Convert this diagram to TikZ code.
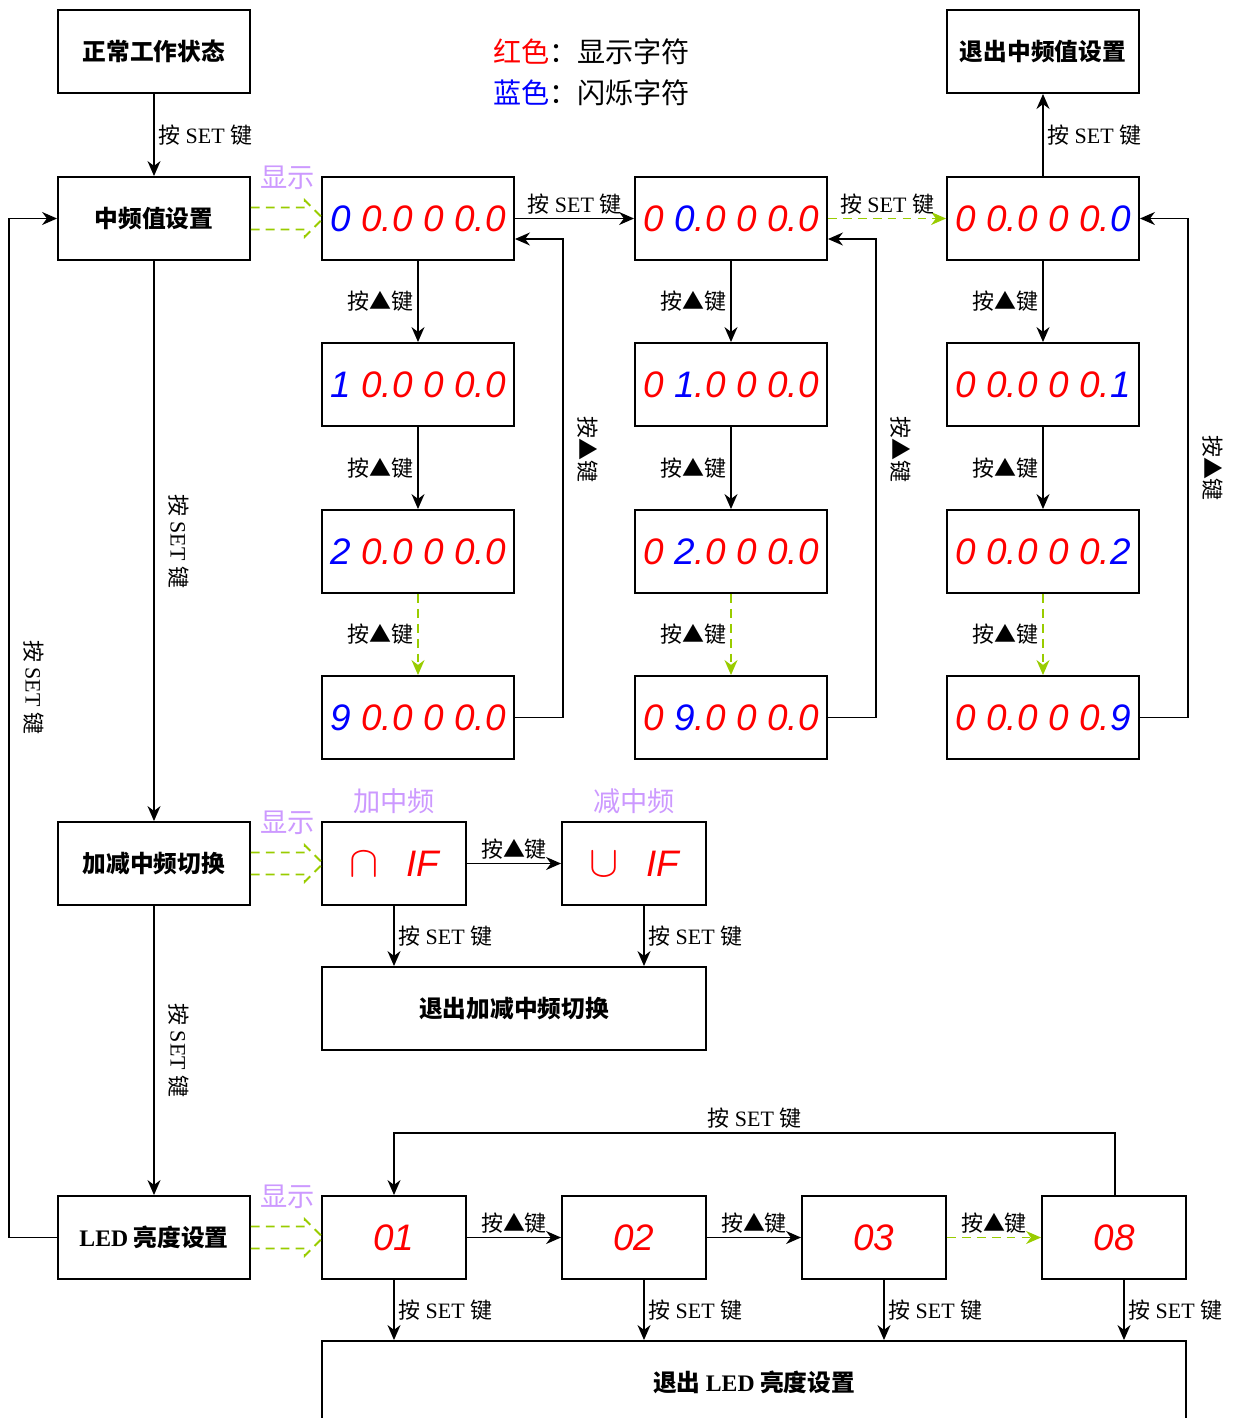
\documentclass[tikz,border=0pt]{standalone}
\usepackage{fontspec}
\setmainfont{Liberation Serif}
\setsansfont{Liberation Sans}
\newfontfamily\cjk{Noto Sans CJK SC}
\newfontfamily\segfont{Liberation Sans}
\usetikzlibrary{arrows.meta}
\definecolor{lilac}{RGB}{204,153,255}
\definecolor{leaf}{RGB}{153,204,0}

\newcommand\setkey{{\cjk 按} SET {\cjk 键}}
\newcommand\upkey{{\cjk 按▲键}}
\newcommand\dg[2]{\makebox[0.62cm][c]{\color{#1}#2}}
\newcommand\dt{\makebox[0pt][c]{\color{red}.}}
\newcommand\disp[2]{\foreach \i in {1,...,6}{\ifnum\i=#1 \dg{blue}{#2}\else\dg{red}{0}\fi\ifnum\i=2 \dt\fi\ifnum\i=5 \dt\fi}}

\begin{document}
\begin{tikzpicture}[x=0.02cm, y=-0.02cm,
    box/.style={draw, line width=1.1pt, minimum width=3.84cm, minimum height=1.66cm, font=\cjk\bfseries\fontsize{13.5}{16}\selectfont},
    seg/.style={draw, line width=1.1pt, minimum width=3.84cm, minimum height=1.66cm, inner sep=0pt, font=\segfont\itshape\fontsize{21}{21}\selectfont},
    small/.style={seg, minimum width=2.88cm},
    lab/.style={inner sep=2pt, text=black, font=\fontsize{12.5}{15}\selectfont},
    hint/.style={text=lilac, font=\cjk\fontsize{15.5}{18}\selectfont},
    go/.style={line width=0.85pt, -{Stealth[length=3mm,width=2.6mm]}},
    hop/.style={go, leaf, dash pattern=on 5pt off 3.5pt},
    hollow/.style={leaf, dash pattern=on 5pt off 3.5pt, line width=1.1pt}]
\useasboundingbox (0,0) rectangle (1241,1418);

\node[box] (work) at (154,51.5) {正常工作状态};
\node[box] (quit) at (1043,51.5) {退出中频值设置};
\node[box] (freq) at (154,218.5) {中频值设置};
\node[box] (mode) at (154,863.5) {加减中频切换};
\node[box] (led) at (154,1237.5) {{\rmfamily LED} 亮度设置};

\node[anchor=west, font=\cjk\fontsize{16}{20}\selectfont] (redkey) at (487,52) {\textcolor{red}{红色}：显示字符};
\node[anchor=west, font=\cjk\fontsize{16}{20}\selectfont] (bluekey) at (487,93) {\textcolor{blue}{蓝色}：闪烁字符};

\node[seg] (a1) at (418,218.5) {\disp{1}{0}};
\node[seg] (a2) at (418,384.5) {\disp{1}{1}};
\node[seg] (a3) at (418,551.5) {\disp{1}{2}};
\node[seg] (a4) at (418,717.5) {\disp{1}{9}};
\node[seg] (b1) at (731,218.5) {\disp{2}{0}};
\node[seg] (b2) at (731,384.5) {\disp{2}{1}};
\node[seg] (b3) at (731,551.5) {\disp{2}{2}};
\node[seg] (b4) at (731,717.5) {\disp{2}{9}};
\node[seg] (c1) at (1043,218.5) {\disp{6}{0}};
\node[seg] (c2) at (1043,384.5) {\disp{6}{1}};
\node[seg] (c3) at (1043,551.5) {\disp{6}{2}};
\node[seg] (c4) at (1043,717.5) {\disp{6}{9}};

\node[small] (up) at (394,863.5) {\color{red}{\fontsize{30}{30}\selectfont$\cap$}\hspace{0.75em}IF};
\node[small] (down) at (634,863.5) {\color{red}{\fontsize{30}{30}\selectfont$\cup$}\hspace{0.75em}IF};
\node[box, minimum width=7.68cm] (back) at (514,1008.5) {退出加减中频切换};
\node[hint] (uptext) at (394,801) {加中频};
\node[hint] (downtext) at (634,801) {减中频};

\node[small] (l1) at (394,1237.5) {\color{red}01};
\node[small] (l2) at (634,1237.5) {\color{red}02};
\node[small] (l3) at (874,1237.5) {\color{red}03};
\node[small] (l8) at (1114,1237.5) {\color{red}08};
\node[box, minimum width=17.28cm] (done) at (754,1382.5) {退出 {\rmfamily LED} 亮度设置};

\foreach \s in {freq,mode,led}{
  \draw[hollow] (\s.east) ++(0,-11) -- ++(54,0) -- ++(0,-7) -- ++(18,18) -- ++(-18,18) -- ++(0,-7) -- ++(-54,0);
  \node[hint] (\s-hint) at ([shift={(37,-41)}]\s.east) {显示};
}

\draw[go] (work) -- node[lab, right] {\setkey} (freq);
\draw[go] (c1) -- node[lab, right] {\setkey} (quit);
\draw[go] (freq) -- node[lab, rotate=-90, above=6pt] {\setkey} (mode);
\draw[go] (mode) -- node[lab, rotate=-90, above=6pt] {\setkey} (led);
\draw[go] (led.west) -- ++(-48,0) |- node[pos=0.27, lab, rotate=-90, above=6pt] {\setkey} (freq.west);

\draw[go] (a1) -- node[lab, above] {\setkey} (b1);
\draw[hop] (b1) -- node[lab, above] {\setkey} (c1);
\draw[go] (a1) -- node[lab, left] {\upkey} (a2);
\draw[go] (a2) -- node[lab, left] {\upkey} (a3);
\draw[hop] (a3) -- node[lab, left] {\upkey} (a4);
\draw[go] (b1) -- node[lab, left] {\upkey} (b2);
\draw[go] (b2) -- node[lab, left] {\upkey} (b3);
\draw[hop] (b3) -- node[lab, left] {\upkey} (b4);
\draw[go] (c1) -- node[lab, left] {\upkey} (c2);
\draw[go] (c2) -- node[lab, left] {\upkey} (c3);
\draw[hop] (c3) -- node[lab, left] {\upkey} (c4);
\draw[go] (a4.east) -- ++(48,0) |- node[pos=0.28, lab, rotate=-90, above=6pt] {\upkey} ([shift={(0,20.5)}]a1.east);
\draw[go] (b4.east) -- ++(48,0) |- node[pos=0.28, lab, rotate=-90, above=6pt] {\upkey} ([shift={(0,20.5)}]b1.east);
\draw[go] (c4.east) -- ++(48,0) |- node[pos=0.25, lab, rotate=-90, above=6pt] {\upkey} (c1.east);

\draw[go] (up) -- node[lab, above] {\upkey} (down);
\draw[go] (up.south) -- node[lab, right] {\setkey} (up.south |- back.north);
\draw[go] ([shift={(10,0)}]down.south) -- node[lab, right] {\setkey} ([shift={(10,0)}]down.south |- back.north);

\draw[go] (l1) -- node[lab, above] {\upkey} (l2);
\draw[go] (l2) -- node[lab, above] {\upkey} (l3);
\draw[hop] (l3) -- node[lab, above] {\upkey} (l8);
\draw[go] (l1.south) -- node[lab, right] {\setkey} (l1.south |- done.north);
\draw[go] ([shift={(10,0)}]l2.south) -- node[lab, right] {\setkey} ([shift={(10,0)}]l2.south |- done.north);
\draw[go] ([shift={(10,0)}]l3.south) -- node[lab, right] {\setkey} ([shift={(10,0)}]l3.south |- done.north);
\draw[go] ([shift={(10,0)}]l8.south) -- node[lab, right] {\setkey} ([shift={(10,0)}]l8.south |- done.north);
\draw[go] ([shift={(1,0)}]l8.north) -- ++(0,-62) -| node[pos=0.25, lab, above] {\setkey} (l1.north);
\end{tikzpicture}
\end{document}
